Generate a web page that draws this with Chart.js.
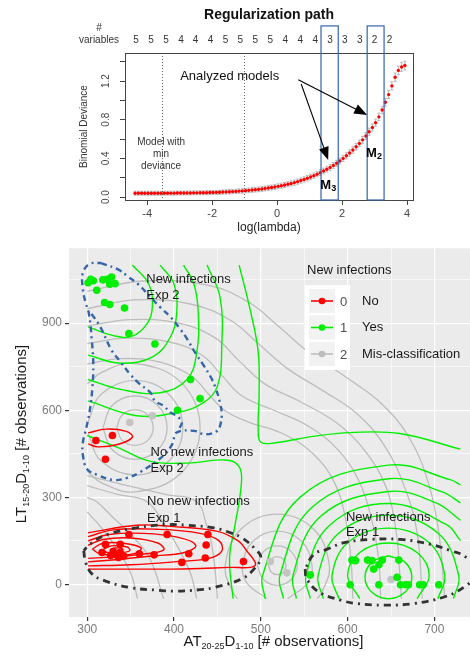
<!DOCTYPE html>
<html>
<head>
<meta charset="utf-8">
<title>Regularization path</title>
<script src="https://cdn.jsdelivr.net/npm/chart.js@4.4.1/dist/chart.umd.min.js"></script>
<style>
  body { margin: 0; background: #fff; width: 470px; height: 656px; overflow: hidden; position: relative; }
  #pathChart { position: absolute; left: 0; top: 0; }
  #scatterChart { position: absolute; left: 0; top: 238px; }
</style>
</head>
<body>
<canvas id="pathChart" width="470" height="238"></canvas>
<canvas id="scatterChart" width="470" height="418"></canvas>
<script>
// ---------- top panel: regularization path ----------
const logLambda = [-4.37,-4.27,-4.17,-4.07,-3.97,-3.87,-3.77,-3.67,-3.57,-3.47,-3.37,-3.27,-3.17,-3.07,
  -2.97,-2.87,-2.77,-2.67,-2.57,-2.47,-2.37,-2.27,-2.17,-2.07,
  -1.97,-1.87,-1.77,-1.67,-1.57,-1.47,-1.37,-1.27,-1.17,-1.07,
  -0.97,-0.87,-0.77,-0.67,-0.57,-0.47,-0.37,-0.27,-0.17,-0.07,
  0.03,0.13,0.23,0.33,0.43,0.53,0.63,0.73,0.83,0.93,
  1.03,1.13,1.23,1.33,1.43,1.53,1.63,1.73,1.83,1.93,
  2.03,2.13,2.23,2.33,2.43,2.53,2.63,2.73,2.83,2.93,
  3.03,3.13,3.23,3.33,3.43,3.53,3.63,3.73,3.83,3.93];
const deviance = [0.040,0.040,0.040,0.040,0.040,0.040,0.040,0.040,0.040,0.041,0.041,0.041,0.041,0.042,
  0.042,0.042,0.043,0.043,0.044,0.044,0.045,0.045,0.046,0.047,
  0.048,0.049,0.050,0.052,0.053,0.055,0.057,0.059,0.062,0.064,
  0.067,0.070,0.073,0.077,0.080,0.084,0.089,0.094,0.099,0.105,
  0.111,0.118,0.125,0.133,0.141,0.150,0.160,0.171,0.182,0.195,
  0.208,0.222,0.237,0.253,0.270,0.288,0.307,0.328,0.350,0.374,
  0.400,0.427,0.456,0.487,0.520,0.555,0.592,0.632,0.675,0.720,
  0.770,0.830,0.900,0.980,1.060,1.150,1.240,1.310,1.345,1.360];
const devianceSE = [0.020,0.020,0.020,0.020,0.020,0.020,0.020,0.020,0.020,0.020,0.020,0.020,0.020,0.020,
  0.020,0.020,0.020,0.020,0.020,0.020,0.020,0.020,0.021,0.021,
  0.021,0.021,0.021,0.022,0.022,0.022,0.022,0.022,0.023,0.023,
  0.023,0.023,0.024,0.024,0.024,0.024,0.025,0.025,0.025,0.025,
  0.026,0.026,0.026,0.026,0.027,0.027,0.027,0.027,0.028,0.028,
  0.028,0.028,0.029,0.029,0.029,0.030,0.030,0.030,0.031,0.031,
  0.032,0.032,0.033,0.033,0.034,0.034,0.035,0.035,0.036,0.036,
  0.037,0.038,0.039,0.040,0.041,0.042,0.043,0.044,0.045,0.045];
const nVarsPos = [-4.34,-3.88,-3.42,-2.96,-2.51,-2.05,-1.59,-1.13,-0.67,-0.21,0.25,0.71,1.17,1.63,2.08,2.54,3.00,3.46];
const nVarsLabels = ['5','5','5','4','4','4','5','5','5','5','4','4','4','3','3','3','2','2'];
const lambdaTicks = [-4, -2, 0, 2, 4];
const devTicks = [0, 0.2, 0.4, 0.6, 0.8, 1.0, 1.2, 1.4];
const devLabels = [0, 0.4, 0.8, 1.2];
const minLines = [-3.55, -1.02];
const modelBoxes = [[1.35, 1.88], [2.77, 3.29]];

const FONT = '"Liberation Sans", Arial, sans-serif';

function arrow(ctx, x1, y1, x2, y2) {
  const a = Math.atan2(y2 - y1, x2 - x1);
  const len = 13, hw = 5;
  ctx.beginPath();
  ctx.moveTo(x1, y1);
  ctx.lineTo(x2 - Math.cos(a) * len * 0.8, y2 - Math.sin(a) * len * 0.8);
  ctx.stroke();
  ctx.beginPath();
  ctx.moveTo(x2, y2);
  ctx.lineTo(x2 - Math.cos(a) * len - Math.sin(a) * hw, y2 - Math.sin(a) * len + Math.cos(a) * hw);
  ctx.lineTo(x2 - Math.cos(a) * len + Math.sin(a) * hw, y2 - Math.sin(a) * len - Math.cos(a) * hw);
  ctx.closePath();
  ctx.fill();
}

const pathDecor = {
  id: 'pathDecor',
  beforeDatasetsDraw(chart) {
    const { ctx, chartArea: a, scales: { x, y } } = chart;
    ctx.save();
    // error bars
    ctx.strokeStyle = '#b8b8b8';
    ctx.lineWidth = 1;
    logLambda.forEach((v, i) => {
      const px = x.getPixelForValue(v);
      const y1 = y.getPixelForValue(deviance[i] + devianceSE[i]);
      const y2 = y.getPixelForValue(deviance[i] - devianceSE[i]);
      ctx.beginPath();
      ctx.moveTo(px, y1); ctx.lineTo(px, y2);
      ctx.moveTo(px - 1.5, y1); ctx.lineTo(px + 1.5, y1);
      ctx.moveTo(px - 1.5, y2); ctx.lineTo(px + 1.5, y2);
      ctx.stroke();
    });
    // dotted lines for min deviance / 1se
    ctx.strokeStyle = '#666';
    ctx.setLineDash([1, 2]);
    minLines.forEach(v => {
      const px = Math.round(x.getPixelForValue(v)) + 0.5;
      ctx.beginPath(); ctx.moveTo(px, a.top); ctx.lineTo(px, a.bottom); ctx.stroke();
    });
    ctx.restore();
  },
  afterDraw(chart) {
    const { ctx, chartArea: a, scales: { x, y } } = chart;
    ctx.save();
    // box
    ctx.strokeStyle = '#444';
    ctx.lineWidth = 1;
    ctx.strokeRect(Math.round(a.left) + 0.5, Math.round(a.top) + 0.5, Math.round(a.right - a.left), Math.round(a.bottom - a.top));
    // analyzed model boxes
    ctx.strokeStyle = '#3563ad';
    ctx.lineWidth = 1.2;
    modelBoxes.forEach(b => {
      const x1 = x.getPixelForValue(b[0]), x2 = x.getPixelForValue(b[1]);
      const yt = y.getPixelForValue(1.77);
      ctx.strokeRect(x1, yt, x2 - x1, a.bottom - yt);
    });
    // rotated y tick labels
    ctx.fillStyle = '#444';
    ctx.font = '10px ' + FONT;
    ctx.textAlign = 'center';
    ctx.textBaseline = 'middle';
    devLabels.forEach(v => {
      ctx.save();
      ctx.translate(a.left - 19, y.getPixelForValue(v));
      ctx.rotate(-Math.PI / 2);
      ctx.fillText(v.toFixed(1), 0, 0);
      ctx.restore();
    });
    // axis titles
    ctx.save();
    ctx.translate(84, (a.top + a.bottom) / 2);
    ctx.rotate(-Math.PI / 2);
    ctx.fillStyle = '#333';
    ctx.fillText('Binomial Deviance', 0, 0);
    ctx.restore();
    ctx.fillStyle = '#222';
    ctx.font = '12px ' + FONT;
    ctx.fillText('log(lambda)', (a.left + a.right) / 2, 228);
    // title
    ctx.font = 'bold 14px ' + FONT;
    ctx.fillStyle = '#111';
    ctx.fillText('Regularization path', (a.left + a.right) / 2, 15);
    // number of variables
    ctx.font = '10px ' + FONT;
    ctx.fillStyle = '#333';
    ctx.fillText('#', 99, 28);
    ctx.fillText('variables', 99, 40);
    nVarsPos.forEach((v, i) => ctx.fillText(nVarsLabels[i], x.getPixelForValue(v), 40));
    // annotations
    ctx.fillStyle = '#111';
    ctx.font = '13px ' + FONT;
    ctx.fillText('Analyzed models', x.getPixelForValue(-1.46), y.getPixelForValue(1.245));
    ctx.font = '10px ' + FONT;
    ctx.fillStyle = '#333';
    const mx = x.getPixelForValue(-3.57);
    ctx.fillText('Model with', mx, y.getPixelForValue(0.571));
    ctx.fillText('min', mx, y.getPixelForValue(0.446));
    ctx.fillText('deviance', mx, y.getPixelForValue(0.322));
    ctx.strokeStyle = '#000';
    ctx.fillStyle = '#000';
    ctx.lineWidth = 1.1;
    arrow(ctx, x.getPixelForValue(0.65), y.getPixelForValue(1.214), x.getPixelForValue(2.77), y.getPixelForValue(0.85));
    arrow(ctx, x.getPixelForValue(0.74), y.getPixelForValue(1.17), x.getPixelForValue(1.57), y.getPixelForValue(0.384));
    // M labels
    [[2.95, 0.456, '2'], [1.54, 0.125, '3']].forEach(m => {
      const px = x.getPixelForValue(m[0]), py = y.getPixelForValue(m[1]);
      ctx.font = 'bold 13px ' + FONT;
      ctx.textAlign = 'left';
      ctx.fillText('M', px - 7, py);
      ctx.font = 'bold 9px ' + FONT;
      ctx.fillText(m[2], px + 4, py + 4);
    });
    ctx.restore();
  }
};

new Chart(document.getElementById('pathChart'), {
  type: 'scatter',
  data: {
    datasets: [{
      data: logLambda.map((v, i) => ({ x: v, y: deviance[i] })),
      pointRadius: 1.7,
      pointBackgroundColor: '#ff0000',
      pointBorderWidth: 0
    }]
  },
  options: {
    responsive: false,
    animation: false,
    events: [],
    layout: { autoPadding: false, padding: { left: 0, top: 53, right: 57, bottom: 0 } },
    plugins: { legend: { display: false }, tooltip: { enabled: false } },
    scales: {
      x: {
        type: 'linear', min: -4.68, max: 4.18,
        afterBuildTicks: axis => { axis.ticks = lambdaTicks.map(v => ({ value: v })); },
        afterFit: axis => { axis.height = 38; },
        grid: { drawOnChartArea: false, tickLength: 5, color: '#444' },
        border: { display: false },
        ticks: { color: '#444', font: { family: FONT, size: 11 }, padding: 2, maxRotation: 0, callback: v => String(v) }
      },
      y: {
        type: 'linear', min: -0.03, max: 1.49,
        afterBuildTicks: axis => { axis.ticks = devTicks.map(v => ({ value: v })); },
        afterFit: axis => { axis.width = 125; },
        grid: { drawOnChartArea: false, tickLength: 5, color: '#444' },
        border: { display: false },
        ticks: { callback: () => '' }
      }
    }
  },
  plugins: [pathDecor]
});

// ---------- bottom panel: classification scatter ----------
const xTicks = [300, 350, 400, 450, 500, 550, 600, 650, 700];
const yTicks = [0, 150, 300, 450, 600, 750, 900, 1050];

const noInfX = [310,329,321,348,392,439,437,436,417,409,377,360,338,336,330,321,317,338,480,327,342,332];
const noInfY = [496,513,431,172,172,172,136,91,106,76,102,106,110,93,113,138,110,138,79,100,98,104];
const yesInfX = [304,301,307,311,318,323,328,326,332,320,326,343,348,378,419,430,404,
  557,605,609,623,628,640,636,630,659,657,603,636,661,667,670,683,687,705];
const yesInfY = [1051,1039,1046,1013,1049,1051,1059,1034,1036,971,964,952,864,828,706,640,600,
  33,84,82,84,82,84,68,53,84,25,-1,-1,-1,-1,-1,-1,-1,-1];
const misX = [349,375,511,530,650];
const misY = [558,581,79,40,17];

// density contours (class 0 = red)
const redContours = [
  [[301,178],[357,204],[396,200],[450,183],[474,150],[484,115],[494,71],[488,59],[465,59],[430,55],[396,53],[301,53]],
  [[301,165],[330,188],[380,190],[430,176],[452,150],[455,115],[440,90],[400,78],[350,68],[301,64]],
  [[301,150],[325,172],[365,176],[405,162],[425,135],[412,110],[375,98],[335,86],[301,78]],
  [[301,135],[318,155],[350,160],[382,142],[388,118],[362,104],[330,95],[301,90]],
  [[306,122],[318,142],[342,142],[362,126],[356,108],[335,101],[314,106],[306,122]],
  [[318,120],[328,133],[346,129],[349,116],[336,109],[322,111],[318,120]],
  [[326,120],[332,126],[341,122],[337,114],[329,115],[326,120]],
  [[301,522],[322,535],[345,527],[352,507],[335,482],[312,474],[301,484]]
];
// class 1 = green
const greenContours = [
  [[647,99],[666,77],[674,25],[666,-27],[647,-49],[628,-27],[620,25],[628,77],[647,99]],
  [[614,-49],[600,31],[614,110],[647,143],[680,110],[694,31],[680,-49]],
  [[590,-49],[582,31],[601,146],[647,194],[693,146],[712,31],[704,-49]],
  [[572,-49],[566,31],[590,177],[647,238],[704,177],[728,31],[722,-49]],
  [[557,-49],[552,31],[580,206],[647,279],[714,206],[730,151]],
  [[541,-49],[537,31],[569,235],[647,320],[702,281],[730,221]],
  [[526,-49],[522,31],[559,266],[647,364],[709,319],[730,281]],
  [[505,-49],[502,31],[545,300],[647,411],[719,360],[730,343]],
  [[301,887],[330,857],[352,855],[369,898],[375,955],[371,1034],[352,1100]],
  [[301,790],[338,762],[376,785],[396,853],[403,932],[400,1034],[384,1100]],
  [[301,706],[338,672],[384,660],[415,706],[426,796],[428,932],[423,1034],[411,1100]],
  [[301,632],[357,581],[403,592],[434,626],[450,683],[455,819],[453,989],[438,1100]],
  [[300,513],[335,472],[373,424],[415,418],[462,428],[476,400],[477,330],[470,200],[464,90],[468,-49]],
  [[475,1100],[488,942],[497,800],[498,650],[497,540],[500,490],[519,489],[560,510],[603,523],[660,520],[730,466]]
];
// class 2 = grey
const greyContours = [
  [[334,540],[340,583],[355,601],[370,583],[376,540],[370,497],[355,479],[340,497],[334,540]],
  [[318,540],[329,617],[355,649],[381,617],[392,540],[381,463],[355,431],[329,463],[318,540]],
  [[301,560],[316,655],[355,703],[394,655],[410,540],[394,425],[355,377],[316,425],[301,520]],
  [[300,690],[317,731],[355,761],[408,696],[430,540],[408,384],[355,319],[317,349],[300,390]],
  [[509,65],[512,87],[519,96],[526,87],[529,65],[526,43],[519,34],[512,43],[509,65]],
  [[496,65],[503,113],[519,133],[535,113],[542,65],[535,17],[519,-3],[503,17],[496,65]],
  [[507,-49],[484,5],[479,65],[491,149],[519,184],[547,149],[559,65],[554,5],[531,-49]],
  [[473,-49],[467,-23],[459,65],[477,190],[519,242],[561,190],[579,65],[571,-23],[565,-49]],
  [[300,760],[340,778],[385,765],[420,718],[440,655],[458,600],[485,560],[525,520],[560,450],[585,350],[598,220],[604,80],[606,-49]],
  [[300,830],[345,848],[395,835],[432,790],[455,720],[478,650],[515,600],[555,545],[590,460],[614,350],[628,220],[636,80],[638,-49]],
  [[300,890],[350,912],[405,900],[447,850],[475,770],[505,690],[545,630],[588,555],[620,460],[645,330],[656,180],[660,40],[662,-49]],
  [[300,950],[355,980],[420,965],[465,910],[497,830],[530,745],[570,670],[610,590],[642,480],[665,340],[680,180],[686,-49]],
  [[300,1010],[365,1045],[440,1030],[487,970],[520,890],[555,800],[600,710],[640,620],[672,500],[693,350],[705,180],[712,-49]],
  [[300,375],[340,345],[390,310],[426,285],[438,200],[442,161],[447,60],[450,-49]],
  [[300,340],[335,310],[369,285],[390,200],[407,115],[420,30],[426,-49]],
  [[300,300],[311,285],[330,230],[350,173],[372,90],[388,-49]],
  [[300,250],[315,200],[335,120],[350,40],[358,-49]]
];
// experiment ellipses
const exp2Ellipse = [[316,1107],[336,1084],[347,1060],[359,1033],[373,989],[384,955],[396,921],[407,880],[415,846],[425,795],
  [434,755],[442,716],[448,676],[453,625],[455,585],[453,546],[450,529],[436,517],[423,529],[403,523],[398,483],[388,444],
  [361,387],[346,367],[330,360],[312,377],[300,397],[295,445],[295,489],[299,540],[303,600],[306,680],[307,760],[305,850],
  [302,932],[298,972],[295,1017],[295,1073],[303,1104],[316,1107]];
const exp2Inner = [[305,932],[315,887],[328,807],[338,768],[350,722],[359,694],[373,660],[378,632],[388,615],[396,592],[403,581],[409,557],[404,530]];
const exp1NoEllipse = [[296,116],[298,78],[305,38],[319,14],[350,-11],[382,-20],[400,-23],[430,-18],[448,-9],[478,19],[492,53],
  [500,93],[494,121],[478,161],[465,178],[446,195],[415,204],[392,206],[357,195],[323,172],[303,139],[296,116]];
const exp1YesEllipse = [[551,53],[553,19],[567,-26],[592,-54],[611,-66],[642,-71],[676,-66],[711,-43],[734,-9],[752,45],
  [734,99],[719,116],[696,138],[661,155],[626,155],[596,144],[576,121],[561,104],[551,53]];

const groupNotes = [
  { x: 368, y: [1050, 995], text: ['New infections', 'Exp 2'] },
  { x: 373, y: [455, 398], text: ['No new infections', 'Exp 2'] },
  { x: 369, y: [285, 229], text: ['No new infections', 'Exp 1'] },
  { x: 598, y: [231, 178], text: ['New infections', 'Exp 1'] }
];
const legendCodes = ['0', '1', '2'];
const legendNames = ['No', 'Yes', 'Mis-classification'];
const RED = '#ff0000', GREEN = '#00ee00', GREY = '#bdbdbd';
const legendColors = [RED, GREEN, GREY];

function pts(xs, ys) { return xs.map((v, i) => ({ x: v, y: ys[i] })); }
function contour(p, color, width, dash, order) {
  return {
    data: p.map(q => ({ x: q[0], y: q[1] })),
    showLine: true, pointRadius: 0, borderColor: color, borderWidth: width,
    borderDash: dash || [], tension: 0.4, order: order
  };
}

function richText(ctx, parts, x, y, big, small) {
  let w = 0;
  parts.forEach(p => { ctx.font = (p.sub ? small : big) + 'px ' + FONT; w += ctx.measureText(p.t).width; });
  let cx = x - w / 2;
  ctx.textAlign = 'left';
  parts.forEach(p => {
    ctx.font = (p.sub ? small : big) + 'px ' + FONT;
    ctx.fillText(p.t, cx, p.sub ? y + 5 : y);
    cx += ctx.measureText(p.t).width;
  });
}

const panelDecor = {
  id: 'panelDecor',
  beforeDraw(chart) {
    const { ctx, chartArea: a } = chart;
    ctx.save();
    ctx.fillStyle = '#ebebeb';
    ctx.fillRect(a.left, a.top, a.right - a.left, a.bottom - a.top);
    ctx.restore();
  },
  afterDraw(chart) {
    const { ctx, chartArea: a, scales: { x, y } } = chart;
    ctx.save();
    ctx.textBaseline = 'middle';
    // group notes
    ctx.fillStyle = '#1a1a1a';
    ctx.font = '13px ' + FONT;
    ctx.textAlign = 'left';
    groupNotes.forEach(n => {
      n.text.forEach((t, i) => ctx.fillText(t, x.getPixelForValue(n.x), y.getPixelForValue(n.y[i])));
    });
    // legend
    ctx.fillStyle = '#1a1a1a';
    ctx.fillText('New infections', 307, 32);
    ctx.fillStyle = '#ffffff';
    ctx.fillRect(305, 47, 45, 85);
    legendCodes.forEach((c, i) => {
      const cy = 63 + i * 26.5;
      ctx.fillStyle = '#f2f2f2';
      ctx.fillRect(309, cy - 12, 26, 24);
      ctx.strokeStyle = legendColors[i];
      ctx.lineWidth = 1.6;
      ctx.beginPath(); ctx.moveTo(311, cy); ctx.lineTo(333, cy); ctx.stroke();
      ctx.fillStyle = legendColors[i];
      ctx.beginPath(); ctx.arc(322, cy, 3.3, 0, Math.PI * 2); ctx.fill();
      ctx.fillStyle = '#4d4d4d';
      ctx.font = '13px ' + FONT;
      ctx.fillText(c, 340, cy + 1);
      ctx.fillStyle = '#1a1a1a';
      ctx.fillText(legendNames[i], 362, cy);
    });
    // axis titles
    ctx.fillStyle = '#1a1a1a';
    richText(ctx, [{ t: 'AT' }, { t: '20-25', sub: true }, { t: 'D' }, { t: '1-10', sub: true }, { t: ' [# observations]' }],
      (a.left + a.right) / 2 + 4, 404, 15, 9);
    ctx.save();
    ctx.translate(22, 196);
    ctx.rotate(-Math.PI / 2);
    richText(ctx, [{ t: 'LT' }, { t: '15-20', sub: true }, { t: 'D' }, { t: '1-10', sub: true }, { t: ' [# observations]' }],
      0, 0, 15, 9);
    ctx.restore();
    ctx.restore();
  }
};

const scatterSets = [
  { data: pts(noInfX, noInfY), pointRadius: 3.8, pointBackgroundColor: RED, pointBorderWidth: 0, order: 0 },
  { data: pts(yesInfX, yesInfY), pointRadius: 3.8, pointBackgroundColor: GREEN, pointBorderWidth: 0, order: 0 },
  { data: pts(misX, misY), pointRadius: 3.8, pointBackgroundColor: '#c4c4c4', pointBorderWidth: 0, order: 0 }
];
const blueDash = [6, 4, 2, 4], blackDash = [7, 5, 2, 5];
const lineSets = [
  contour(exp2Ellipse, '#3566a8', 2.4, blueDash, 1),
  contour(exp2Inner, '#3566a8', 2.4, blueDash, 1),
  contour(exp1NoEllipse, '#333333', 2.8, blackDash, 1),
  contour(exp1YesEllipse, '#333333', 2.8, blackDash, 1)
]
  .concat(redContours.map(c => contour(c, RED, 1.4, null, 2)))
  .concat(greenContours.map(c => contour(c, '#00f000', 1.4, null, 3)))
  .concat(greyContours.map(c => contour(c, GREY, 1.3, null, 4)));

new Chart(document.getElementById('scatterChart'), {
  type: 'scatter',
  data: { datasets: scatterSets.concat(lineSets) },
  options: {
    responsive: false,
    animation: false,
    events: [],
    layout: { autoPadding: false, padding: { left: 0, top: 5, right: 0, bottom: 0 } },
    plugins: { legend: { display: false }, tooltip: { enabled: false } },
    scales: {
      x: {
        type: 'linear', min: 279, max: 741,
        afterBuildTicks: axis => { axis.ticks = xTicks.map(v => ({ value: v })); },
        afterFit: axis => { axis.height = 39; },
        grid: {
          color: '#ffffff',
          lineWidth: c => (c.tick && c.tick.value % 100 === 0 ? 1.2 : 0.6),
          tickColor: c => (c.tick && c.tick.value % 100 === 0 ? '#333333' : 'rgba(0,0,0,0)'),
          tickLength: 4
        },
        border: { display: false },
        ticks: { color: '#7a7a7a', font: { family: FONT, size: 12 }, padding: 1, maxRotation: 0,
          callback: v => (v % 100 === 0 ? String(v) : '') }
      },
      y: {
        type: 'linear', min: -112, max: 1158,
        afterBuildTicks: axis => { axis.ticks = yTicks.map(v => ({ value: v })); },
        afterFit: axis => { axis.width = 69; },
        grid: {
          color: '#ffffff',
          lineWidth: c => (c.tick && c.tick.value % 300 === 0 ? 1.2 : 0.6),
          tickColor: c => (c.tick && c.tick.value % 300 === 0 ? '#333333' : 'rgba(0,0,0,0)'),
          tickLength: 4
        },
        border: { display: false },
        ticks: { color: '#7a7a7a', font: { family: FONT, size: 12 }, padding: 3,
          callback: v => (v % 300 === 0 ? String(v) : '') }
      }
    }
  },
  plugins: [panelDecor]
});
</script>
</body>
</html>
